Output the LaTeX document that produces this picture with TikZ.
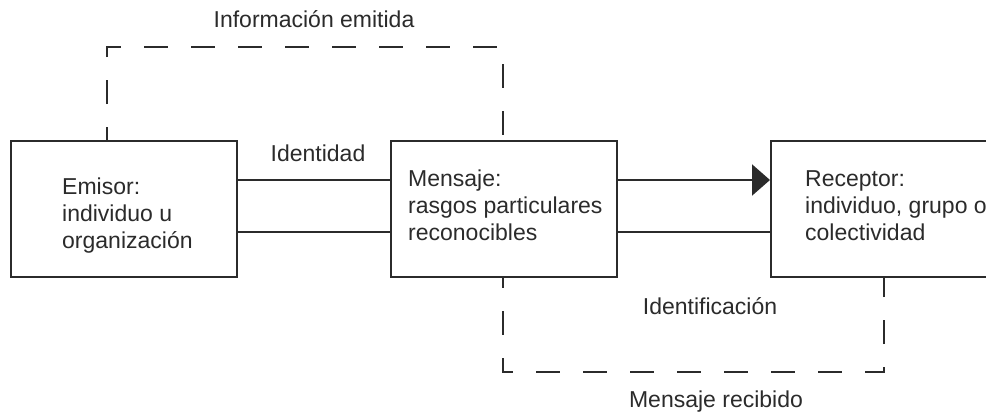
\documentclass[tikz,border=0pt]{standalone}
\usepackage{fontspec}
\setmainfont{Liberation Sans}
\usetikzlibrary{arrows.meta}
\definecolor{ink}{HTML}{2B2B2B}
\tikzset{
  boxnode/.style={draw=ink, line width=2pt, minimum width=226pt, minimum height=136pt, inner sep=0pt},
  txt/.style={inner sep=0pt, text=ink, font=\fontsize{23}{27}\selectfont},
  link/.style={draw=ink, line width=2pt},
  dashbox/.style={draw=ink, line width=2pt, dash pattern=on 24pt off 23pt},
}
\begin{document}
\begin{tikzpicture}[x=1pt, y=-1pt]
\clip (0,0) rectangle (986,413);
\useasboundingbox (0,0) rectangle (986,413);
\fill[white] (0,0) rectangle (986,413);
% boxes
\node[boxnode] (emisor) at (124,209) {};
\node[boxnode] (mensaje) at (504,209) {};
\node[boxnode] (receptor) at (884,209) {};
% box texts
\node[txt, anchor=base west] (temisor) at (62,194) {\begin{tabular}[t]{@{}l@{}}Emisor:\\individuo u\\organización\end{tabular}};
\node[txt, anchor=base west] (tmensaje) at (408,186) {\begin{tabular}[t]{@{}l@{}}Mensaje:\\rasgos particulares\\reconocibles\end{tabular}};
\node[txt, anchor=base west] (treceptor) at (805,186) {\begin{tabular}[t]{@{}l@{}}Receptor:\\individuo, grupo o\\colectividad\end{tabular}};
% labels
\node[txt, anchor=base] (linfo) at (314,27) {Información emitida};
\node[txt, anchor=base] (lident) at (318,161) {Identidad};
\node[txt, anchor=base] (lidentif) at (710,314) {Identificación};
\node[txt, anchor=base] (lrecib) at (716,407) {Mensaje recibido};
% connectors
\coordinate (yA) at (0,180);
\coordinate (yB) at (0,232);
\draw[link] (emisor.east |- yA) -- (mensaje.west |- yA);
\draw[link] (emisor.east |- yB) -- (mensaje.west |- yB);
\draw[link, -{Triangle[length=18pt,width=31pt]}] (mensaje.east |- yA) -- (receptor.west |- yA);
\draw[link] (mensaje.east |- yB) -- (receptor.west |- yB);
% dashed loops
\coordinate (topL) at (107,47);
\coordinate (topR) at (503,47);
\draw[dashbox, dash phase=11pt] (emisor.north -| topL) -- (topL) -- (topR) -- (mensaje.north -| topR);
\coordinate (botL) at (503,372);
\coordinate (botR) at (884,372);
\draw[dashbox, dash phase=14pt] (mensaje.south -| botL) -- (botL) -- (botR) -- (receptor.south -| botR);
\end{tikzpicture}
\end{document}
